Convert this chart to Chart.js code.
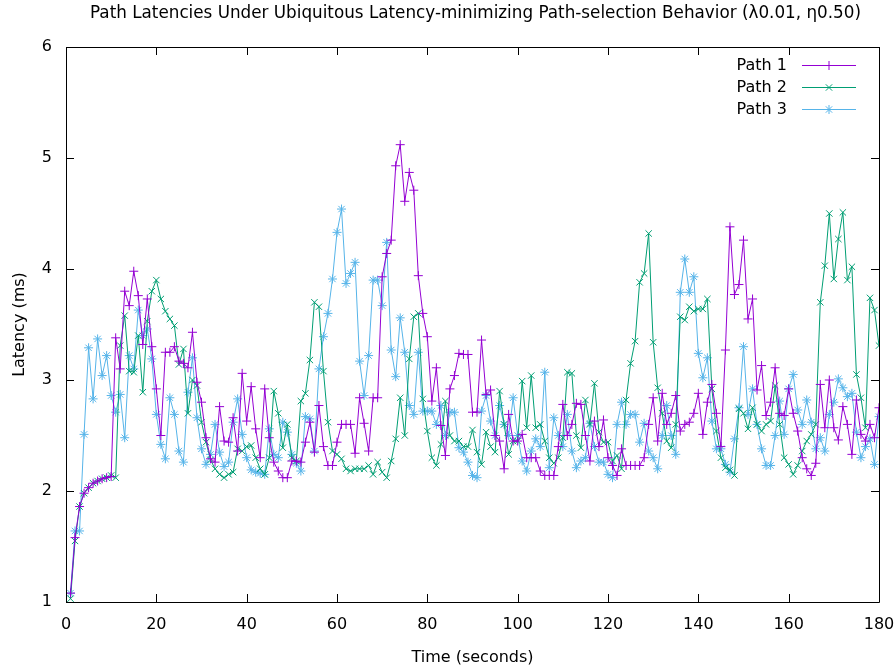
<!DOCTYPE html>
<html>
<head>
<meta charset="utf-8">
<script src="https://cdn.jsdelivr.net/npm/chart.js@4/dist/chart.umd.min.js"></script>
<style>
  html, body { margin: 0; padding: 0; background: #ffffff; }
  #wrap { width: 896px; height: 669px; }
</style>
</head>
<body>
<div id="wrap"><canvas id="c" width="896" height="669"></canvas></div>
<script>
const chartTitle = "Path Latencies Under Ubiquitous Latency-minimizing Path-selection Behavior (\u03BB0.01, \u03B70.50)";
const xTitle = "Time (seconds)";
const yTitle = "Latency (ms)";
const seriesNames = ["Path 1", "Path 2", "Path 3"];
const xTicks = [0, 20, 40, 60, 80, 100, 120, 140, 160, 180];
const yTicks = [1, 2, 3, 4, 5, 6];

// time in seconds (one sample per second)
const times = Array.from({length: 180}, (_, i) => i + 1);

const path1 = [
  1.08, 1.58, 1.86, 1.98, 2.03, 2.07, 2.09, 2.11, 2.12, 2.13,
  3.38, 3.10, 3.80, 3.67, 3.98, 3.76, 3.32, 3.73, 3.30, 2.92,
  2.50, 3.25, 3.25, 3.30, 3.17, 3.15, 3.11, 3.43, 2.98, 2.80,
  2.48, 2.29, 2.26, 2.76, 2.45, 2.44, 2.66, 2.36, 3.06, 2.63,
  2.94, 2.56, 2.30, 2.92, 2.48, 2.26, 2.18, 2.12, 2.12, 2.27,
  2.27, 2.26, 2.44, 2.62, 2.35, 2.77, 2.40, 2.23, 2.23, 2.44,
  2.60, 2.60, 2.60, 2.34, 2.84, 2.61, 2.36, 2.84, 2.84, 3.93,
  4.14, 4.26, 4.93, 5.12, 4.61, 4.87, 4.71, 3.94, 3.60, 3.39,
  2.81, 3.11, 2.59, 2.32, 2.92, 3.04, 3.24, 3.23, 3.23, 2.71,
  2.71, 3.36, 2.87, 2.91, 2.50, 2.45, 2.20, 2.69, 2.45, 2.45,
  2.51, 2.30, 2.30, 2.30, 2.18, 2.14, 2.14, 2.14, 2.40, 2.78,
  2.50, 2.60, 2.79, 2.78, 2.50, 2.27, 2.63, 2.40, 2.64, 2.30,
  2.23, 2.14, 2.38, 2.23, 2.23, 2.23, 2.23, 2.30, 2.60, 2.84,
  2.45, 2.88, 2.60, 2.70, 2.86, 2.54, 2.60, 2.62, 2.70, 2.88,
  2.51, 2.80, 2.96, 2.70, 2.40, 3.27, 4.38, 3.77, 3.86, 4.26,
  3.55, 3.73, 2.91, 3.13, 2.68, 2.80, 3.11, 2.70, 2.68, 2.92,
  2.70, 2.54, 2.30, 2.20, 2.14, 2.25, 2.96, 2.57, 3.00, 2.57,
  2.46, 2.76, 2.60, 2.33, 2.82, 2.51, 2.45, 2.60, 2.48, 2.75
];

const path2 = [
  1.03, 1.55, 1.86, 1.98, 2.03, 2.07, 2.09, 2.11, 2.12, 2.14,
  2.12, 3.31, 3.58, 3.08, 3.07, 3.40, 2.89, 3.53, 3.80, 3.90,
  3.73, 3.62, 3.55, 3.49, 3.14, 3.28, 2.70, 3.00, 2.95, 2.62,
  2.44, 2.28, 2.20, 2.15, 2.12, 2.15, 2.17, 2.38, 2.36, 2.40,
  2.41, 2.30, 2.20, 2.15, 2.30, 2.90, 2.70, 2.39, 2.60, 2.30,
  2.27, 2.81, 2.88, 3.18, 3.70, 3.66, 3.08, 2.62, 2.36, 2.33,
  2.29, 2.20, 2.18, 2.20, 2.20, 2.20, 2.23, 2.15, 2.26, 2.17,
  2.12, 2.27, 2.47, 2.84, 2.50, 3.19, 3.57, 3.60, 2.83, 2.54,
  2.30, 2.23, 2.42, 2.81, 2.50, 2.45, 2.45, 2.40, 2.40, 2.55,
  2.35, 2.24, 2.53, 2.40, 2.35, 2.90, 2.60, 2.33, 2.45, 2.45,
  2.99, 2.57, 3.04, 2.57, 2.60, 2.45, 2.30, 2.25, 2.30, 2.48,
  3.07, 3.06, 2.50, 2.39, 2.82, 2.60, 2.97, 2.53, 2.44, 2.44,
  2.27, 2.32, 2.20, 2.82, 3.15, 3.35, 3.88, 3.96, 4.32, 3.34,
  2.93, 2.70, 2.45, 2.39, 2.60, 3.57, 3.54, 3.66, 3.62, 3.64,
  3.64, 3.73, 2.92, 2.54, 2.30, 2.21, 2.19, 2.14, 2.74, 2.70,
  2.56, 2.75, 2.60, 2.54, 2.60, 2.63, 2.95, 2.60, 2.30, 2.24,
  2.15, 2.23, 2.36, 2.45, 2.51, 2.60, 3.70, 4.03, 4.50, 3.91,
  4.27, 4.51, 3.90, 4.02, 3.05, 2.84, 2.57, 3.74, 3.63, 3.31
];

const path3 = [
  1.08, 1.64, 1.64, 2.51, 3.29, 2.83, 3.37, 3.04, 3.22, 2.86,
  2.71, 2.87, 2.48, 3.22, 3.10, 3.63, 3.40, 3.46, 3.19, 2.69,
  2.42, 2.29, 2.84, 2.69, 2.36, 2.26, 2.89, 3.20, 2.66, 2.38,
  2.24, 2.33, 2.60, 2.35, 2.22, 2.26, 2.62, 2.83, 2.51, 2.30,
  2.19, 2.17, 2.16, 2.15, 2.56, 2.33, 2.30, 2.62, 2.53, 2.33,
  2.25, 2.18, 2.67, 2.65, 2.36, 3.10, 3.39, 3.60, 3.91, 4.33,
  4.54, 3.87, 3.96, 4.06, 3.17, 2.86, 3.22, 3.90, 3.90, 3.67,
  4.24, 3.27, 3.03, 3.56, 3.25, 2.77, 2.69, 3.25, 2.72, 2.72,
  2.72, 2.60, 2.77, 2.50, 2.71, 2.71, 2.39, 2.35, 2.26, 2.14,
  2.12, 2.72, 2.86, 2.63, 2.50, 2.77, 2.60, 2.50, 2.84, 2.50,
  2.27, 2.18, 2.36, 2.47, 2.40, 3.07, 2.21, 2.66, 2.50, 2.40,
  2.69, 2.36, 2.21, 2.27, 2.30, 2.61, 2.40, 2.26, 2.26, 2.15,
  2.12, 2.60, 2.80, 2.60, 2.69, 2.69, 2.44, 2.61, 2.36, 2.30,
  2.20, 2.50, 2.77, 2.50, 2.33, 3.79, 4.09, 3.79, 3.93, 3.24,
  3.02, 3.20, 2.63, 2.38, 2.38, 2.24, 2.17, 2.47, 2.75, 3.30,
  2.69, 2.92, 2.60, 2.38, 2.23, 2.23, 2.50, 2.81, 2.51, 2.92,
  3.05, 2.73, 2.60, 2.82, 2.62, 2.38, 2.48, 2.36, 2.69, 2.80,
  3.01, 2.93, 2.85, 2.88, 2.53, 2.30, 2.40, 2.47, 2.24, 2.67
];

const colors = ["#9400d3", "#009e73", "#56b4e9"];
const markers = ["cross", "crossRot", "star"];
const FONT = "'DejaVu Sans', sans-serif";

function toPoints(vals) { return vals.map((v, i) => ({x: times[i], y: v})); }
const allSeries = [path1, path2, path3];

const datasets = allSeries.map((vals, i) => ({
  label: seriesNames[i],
  data: toPoints(vals),
  borderColor: colors[i],
  backgroundColor: colors[i],
  borderWidth: 1,
  pointStyle: markers[i],
  pointRadius: 4.5,
  pointBorderWidth: 1,
  pointBorderColor: colors[i],
  pointBackgroundColor: colors[i],
  tension: 0,
  fill: false
}));

const frame = {
  id: 'frame',
  afterDatasetsDraw(chart) {
    const {ctx, chartArea: a, scales} = chart;
    const xs = scales.x, ys = scales.y;
    ctx.save();
    // title centred over the plot area
    ctx.fillStyle = '#000000';
    ctx.font = "16.8px " + FONT;
    ctx.textAlign = 'center';
    ctx.textBaseline = 'middle';
    ctx.fillText(chartTitle, (a.left + a.right) / 2 + 3, 14);

    ctx.strokeStyle = '#000000';
    ctx.lineWidth = 1;
    ctx.beginPath();
    ctx.rect(Math.round(a.left) + 0.5, Math.round(a.top) + 0.5,
             Math.round(a.right - a.left), Math.round(a.bottom - a.top));
    ctx.stroke();
    const tl = 8;
    ctx.beginPath();
    xTicks.forEach(v => {
      const px = Math.round(xs.getPixelForValue(v)) + 0.5;
      ctx.moveTo(px, a.bottom); ctx.lineTo(px, a.bottom - tl);
      ctx.moveTo(px, a.top); ctx.lineTo(px, a.top + tl);
    });
    yTicks.forEach(v => {
      const py = Math.round(ys.getPixelForValue(v)) + 0.5;
      ctx.moveTo(a.left, py); ctx.lineTo(a.left + tl, py);
      ctx.moveTo(a.right, py); ctx.lineTo(a.right - tl, py);
    });
    ctx.stroke();

    // key (legend) inside top-right
    ctx.font = "16px " + FONT;
    ctx.textAlign = 'right';
    ctx.textBaseline = 'middle';
    const rows = [65, 87, 109];
    chart.data.datasets.forEach((ds, i) => {
      const y = rows[i];
      ctx.fillStyle = '#000000';
      ctx.fillText(ds.label, 787, y + 1);
      ctx.strokeStyle = ds.borderColor;
      ctx.lineWidth = 1;
      ctx.beginPath();
      ctx.moveTo(802, y + 0.5); ctx.lineTo(856, y + 0.5);
      ctx.stroke();
      Chart.helpers.drawPoint(ctx, {pointStyle: ds.pointStyle, radius: 4.5, borderWidth: 1, rotation: 0}, 829, y + 0.5);
    });
    ctx.restore();
  }
};

new Chart(document.getElementById('c'), {
  type: 'line',
  data: { datasets },
  plugins: [frame],
  options: {
    responsive: false,
    animation: false,
    devicePixelRatio: 1,
    layout: { padding: { left: 0, right: 17, top: 47, bottom: 0 } },
    plugins: {
      legend: { display: false },
      tooltip: { enabled: false },
      title: { display: false }
    },
    scales: {
      x: {
        type: 'linear',
        min: 0, max: 180,
        afterBuildTicks(s) { s.ticks = xTicks.map(v => ({value: v})); },
        afterFit(s) { s.height = 67; s.paddingLeft = 0; s.paddingRight = 0; },
        grid: { display: false, drawTicks: false },
        border: { display: false },
        ticks: { color: '#000000', font: { family: FONT, size: 16 }, padding: 13, maxRotation: 0, autoSkip: false },
        title: { display: true, text: xTitle, color: '#000000', font: { family: FONT, size: 16 }, padding: { top: 0, bottom: 2 } }
      },
      y: {
        type: 'linear',
        min: 1, max: 6,
        afterBuildTicks(s) { s.ticks = yTicks.map(v => ({value: v})); },
        afterFit(s) { s.width = 66; s.paddingTop = 0; s.paddingBottom = 0; },
        grid: { display: false, drawTicks: false },
        border: { display: false },
        ticks: { color: '#000000', font: { family: FONT, size: 16 }, padding: 14 },
        title: { display: true, text: yTitle, color: '#000000', font: { family: FONT, size: 16 }, padding: { top: 10, bottom: 0 } }
      }
    }
  }
});
</script>
</body>
</html>
